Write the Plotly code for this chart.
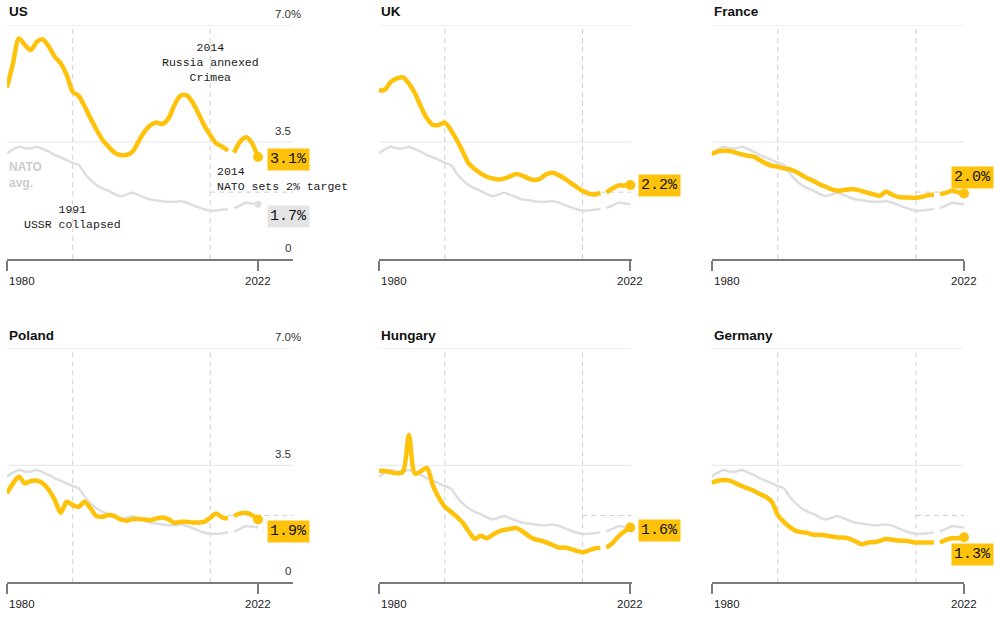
import plotly.graph_objects as go

# ---------------- data ----------------
YEARS = list(range(1980, 2023))
SPLIT_YEAR = 2018          # series break (new estimates)
EVENT_YEARS = [1991, 2014]
TARGET = 2.0
TARGET_YEAR = 2014

NATO_AVG = [3.16, 3.28, 3.36, 3.31, 3.31, 3.36, 3.29, 3.21, 3.11, 3.04,
            2.96, 2.88, 2.81, 2.56, 2.36, 2.21, 2.11, 2.04, 1.94, 1.88,
            1.93, 1.98, 1.91, 1.84, 1.78, 1.76, 1.73, 1.71, 1.71, 1.73,
            1.69, 1.62, 1.55, 1.49, 1.45, 1.45, 1.47, 1.50, 1.52, 1.60,
            1.68, 1.66, 1.64]
US = [5.13, 5.85, 6.60, 6.40, 6.25, 6.50, 6.57, 6.35, 6.05, 5.85,
      5.50, 5.00, 4.88, 4.56, 4.20, 3.86, 3.56, 3.36, 3.18, 3.11,
      3.11, 3.21, 3.51, 3.81, 4.00, 4.08, 4.04, 4.20, 4.60, 4.88,
      4.90, 4.70, 4.36, 4.00, 3.71, 3.46, 3.36, 3.24, 3.18, 3.51,
      3.64, 3.46, 3.05]
UK = [5.03, 5.07, 5.30, 5.40, 5.43, 5.25, 4.96, 4.56, 4.21, 4.01,
      4.01, 4.08, 3.86, 3.56, 3.21, 2.86, 2.69, 2.56, 2.46, 2.41,
      2.38, 2.41, 2.48, 2.54, 2.49, 2.41, 2.36, 2.41, 2.54, 2.58,
      2.51, 2.41, 2.28, 2.16, 2.04, 1.96, 1.93, 1.98, 1.99, 2.11,
      2.20, 2.20, 2.21]
FRANCE = [3.14, 3.21, 3.24, 3.23, 3.18, 3.13, 3.09, 3.06, 2.96, 2.86,
          2.79, 2.76, 2.71, 2.68, 2.61, 2.51, 2.41, 2.33, 2.23, 2.16,
          2.08, 2.04, 2.06, 2.09, 2.08, 2.03, 1.98, 1.93, 1.89, 2.01,
          1.93, 1.86, 1.84, 1.84, 1.83, 1.86, 1.91, 1.92, 1.94, 1.98,
          2.04, 2.00, 1.96]
POLAND = [2.66, 2.96, 3.16, 2.96, 3.03, 3.04, 2.96, 2.76, 2.46, 2.08,
          2.41, 2.31, 2.26, 2.41, 2.21, 1.98, 1.96, 2.01, 1.98, 1.88,
          1.84, 1.89, 1.89, 1.88, 1.86, 1.91, 1.94, 1.89, 1.78, 1.81,
          1.81, 1.79, 1.79, 1.81, 1.93, 2.06, 1.94, 1.91, 1.98, 2.06,
          2.08, 2.01, 1.88]
HUNGARY = [3.34, 3.33, 3.29, 3.26, 3.31, 4.41, 3.25, 3.32, 3.42, 2.90,
           2.53, 2.26, 2.11, 1.96, 1.78, 1.52, 1.30, 1.39, 1.32, 1.42,
           1.52, 1.57, 1.60, 1.62, 1.52, 1.39, 1.29, 1.25, 1.19, 1.12,
           1.04, 1.04, 1.00, 0.94, 0.90, 0.95, 1.01, 1.03, 1.04, 1.17,
           1.37, 1.52, 1.64]
GERMANY = [2.98, 3.04, 3.06, 3.04, 2.96, 2.88, 2.81, 2.74, 2.64, 2.56,
           2.41, 2.01, 1.81, 1.65, 1.54, 1.50, 1.47, 1.42, 1.42, 1.40,
           1.37, 1.34, 1.34, 1.30, 1.22, 1.14, 1.19, 1.20, 1.24, 1.30,
           1.27, 1.25, 1.24, 1.22, 1.19, 1.19, 1.19, 1.19, 1.19, 1.27,
           1.32, 1.32, 1.35]

COUNTRIES = ["US", "UK", "France", "Poland", "Hungary", "Germany"]
SERIES = [US, UK, FRANCE, POLAND, HUNGARY, GERMANY]
VALUE_LABELS = ["3.1%", "2.2%", "2.0%", "1.9%", "1.6%", "1.3%"]
NATO_LABEL = "1.7%"
Y_TICKS = [0, 3.5, 7.0]
Y_TICK_TEXT = ["0", "3.5", "7.0%"]
X_TICKS = [1980, 2022]
EVENT_NOTES = {1991: "1991<br>USSR collapsed", 2014: "2014<br>Russia annexed<br>Crimea"}
TARGET_NOTE = "2014<br>NATO sets 2% target"

# ---------------- styling / layout ----------------
W, H = 1000, 621
YELLOW = "#FFC20A"
GREY_LINE = "#dedede"
GREY_BOX = "#e4e4e4"
DASH_COL = "#cfcfcf"
GRID_COL = "#e6e6e6"
SANS = "Liberation Sans, Arial, sans-serif"
MONO = "Liberation Mono, DejaVu Sans Mono, monospace"

# pixel extents of panels: (x_left, x_right, range_end)
COLS = [(7, 293, 1980 + (293 - 7) / 5.976),
        (379, 631.5, 2022.2),
        (711.7, 964, 2022.0)]
ROWS = [(25, 259), (348.3, 582.3)]
# label placement per panel: (xanchor, xshift, yshift)
LABEL_POS = [("left", 9, -2), ("left", 8, 0), ("center", 8, 16),
             ("left", 9, -12), ("left", 8, -3), ("center", 8, -17)]

fig = go.Figure()
layout = dict(width=W, height=H, margin=dict(l=0, r=0, t=0, b=0),
              paper_bgcolor="white", plot_bgcolor="white",
              showlegend=False, shapes=[], annotations=[])

def split(vals):
    a = [(y, v) for y, v in zip(YEARS, vals) if y < SPLIT_YEAR]
    b = [(y, v) for y, v in zip(YEARS, vals) if y >= SPLIT_YEAR]
    return a, b

for i, (name, vals) in enumerate(zip(COUNTRIES, SERIES)):
    r, c = divmod(i, 3)
    sfx = "" if i == 0 else str(i + 1)
    xa, ya = "x" + sfx, "y" + sfx
    x0p, x1p, xend = COLS[c]
    y0p, y1p = ROWS[r]
    layout["xaxis" + sfx] = dict(
        domain=[x0p / W, x1p / W], range=[1980, xend], anchor=ya,
        showgrid=False, zeroline=False, showline=True, linecolor="#7a7a7a",
        linewidth=1.5, ticks="outside", tickvals=X_TICKS, ticklen=10,
        tickwidth=1.5, tickcolor="#7a7a7a", showticklabels=False, fixedrange=True)
    layout["yaxis" + sfx] = dict(
        domain=[1 - y1p / H, 1 - y0p / H], range=[0, 7.0], anchor=xa,
        showgrid=False, zeroline=False, showline=False, showticklabels=False,
        fixedrange=True)

    # horizontal grid lines
    for tv in Y_TICKS[1:]:
        layout["shapes"].append(dict(type="line", xref=xa + " domain", yref=ya,
                                     x0=0, x1=1, y0=tv, y1=tv, layer="below",
                                     line=dict(color=GRID_COL, width=1)))
    # dashed event lines and 2% target line
    for ey in EVENT_YEARS:
        layout["shapes"].append(dict(type="line", xref=xa, yref=ya, x0=ey, x1=ey,
                                     y0=0, y1=7.0, layer="below",
                                     line=dict(color=DASH_COL, width=1, dash="5px,4px")))
    layout["shapes"].append(dict(type="line", xref=xa, yref=ya, x0=TARGET_YEAR, x1=xend,
                                 y0=TARGET, y1=TARGET, layer="below",
                                 line=dict(color=DASH_COL, width=1, dash="5px,4px")))

    # NATO average (grey) then country (yellow)
    for seg in split(NATO_AVG):
        fig.add_trace(go.Scatter(x=[p[0] for p in seg], y=[p[1] for p in seg],
                                 mode="lines", xaxis=xa, yaxis=ya, cliponaxis=False,
                                 line=dict(color=GREY_LINE, width=2.5, shape="spline",
                                           smoothing=0.8), hoverinfo="skip"))
    if i == 0:
        fig.add_trace(go.Scatter(x=[YEARS[-1]], y=[NATO_AVG[-1]], mode="markers",
                                 xaxis=xa, yaxis=ya, cliponaxis=False,
                                 marker=dict(color=GREY_LINE, size=7)))
    for seg in split(vals):
        fig.add_trace(go.Scatter(x=[p[0] for p in seg], y=[p[1] for p in seg],
                                 mode="lines", xaxis=xa, yaxis=ya, cliponaxis=False,
                                 line=dict(color=YELLOW, width=4.5, shape="spline",
                                           smoothing=0.8)))
    fig.add_trace(go.Scatter(x=[YEARS[-1]], y=[vals[-1]], mode="markers",
                             xaxis=xa, yaxis=ya, cliponaxis=False,
                             marker=dict(color=YELLOW, size=10)))

    ann = layout["annotations"]
    # panel title
    ann.append(dict(text="<b>%s</b>" % name, xref=xa + " domain", yref=ya + " domain",
                    x=0, y=1, xanchor="left", yanchor="middle", yshift=13,
                    showarrow=False, font=dict(family=SANS, size=13.5, color="#111")))
    # x tick labels
    ann.append(dict(text=str(X_TICKS[0]), xref=xa, yref=ya, x=X_TICKS[0], y=0,
                    xanchor="left", yanchor="middle", yshift=-22, showarrow=False,
                    font=dict(family=SANS, size=11.5, color="#222")))
    ann.append(dict(text=str(X_TICKS[1]), xref=xa, yref=ya, x=X_TICKS[1], y=0,
                    xanchor="center", yanchor="middle", yshift=-22, showarrow=False,
                    font=dict(family=SANS, size=11.5, color="#222")))
    # y labels on the first column
    if c == 0:
        for tv, tt in zip(Y_TICKS, Y_TICK_TEXT):
            ann.append(dict(text=tt, xref=xa + " domain", yref=ya, x=1, y=tv,
                            xanchor="right", yanchor="bottom", yshift=3,
                            xshift=10 if tt.endswith("%") else 0, showarrow=False,
                            font=dict(family=SANS, size=11.5, color="#333")))
    # value label
    xanc, xsh, ysh = LABEL_POS[i]
    ann.append(dict(text=VALUE_LABELS[i], xref=xa, yref=ya, x=YEARS[-1], y=vals[-1],
                    xanchor=xanc, yanchor="middle", xshift=xsh, yshift=ysh,
                    showarrow=False, bgcolor=YELLOW, borderpad=2,
                    font=dict(family=MONO, size=15, color="#111")))
    if i == 0:
        ann.append(dict(text=NATO_LABEL, xref=xa, yref=ya, x=YEARS[-1], y=NATO_AVG[-1],
                        xanchor="left", yanchor="middle", xshift=9, yshift=-12,
                        showarrow=False, bgcolor=GREY_BOX, borderpad=2,
                        font=dict(family=MONO, size=15, color="#111")))
        ann.append(dict(text="<b>NATO<br>avg.</b>", xref=xa + " domain", yref=ya,
                        x=0, y=NATO_AVG[0], xanchor="left", yanchor="top", yshift=-5,
                        align="left", showarrow=False,
                        font=dict(family=SANS, size=12, color="#cccccc")))
        ann.append(dict(text=EVENT_NOTES[2014], xref=xa, yref=ya, x=2014, y=7.0,
                        xanchor="center", yanchor="top", yshift=-14, align="center",
                        showarrow=False, font=dict(family=MONO, size=11.5, color="#1a1a1a")))
        ann.append(dict(text=EVENT_NOTES[1991], xref=xa, yref=ya, x=1991, y=1.25,
                        xanchor="center", yanchor="middle", align="center",
                        showarrow=False, font=dict(family=MONO, size=11.5, color="#1a1a1a")))
        ann.append(dict(text=TARGET_NOTE, xref=xa, yref=ya, x=2014, y=TARGET,
                        xanchor="left", yanchor="bottom", xshift=5, yshift=-3,
                        align="left", showarrow=False,
                        font=dict(family=MONO, size=11.5, color="#1a1a1a")))

fig.update_layout(**layout)
fig.write_html("out.html", config={"displayModeBar": False},
               post_script="document.body.style.margin='0px';")
